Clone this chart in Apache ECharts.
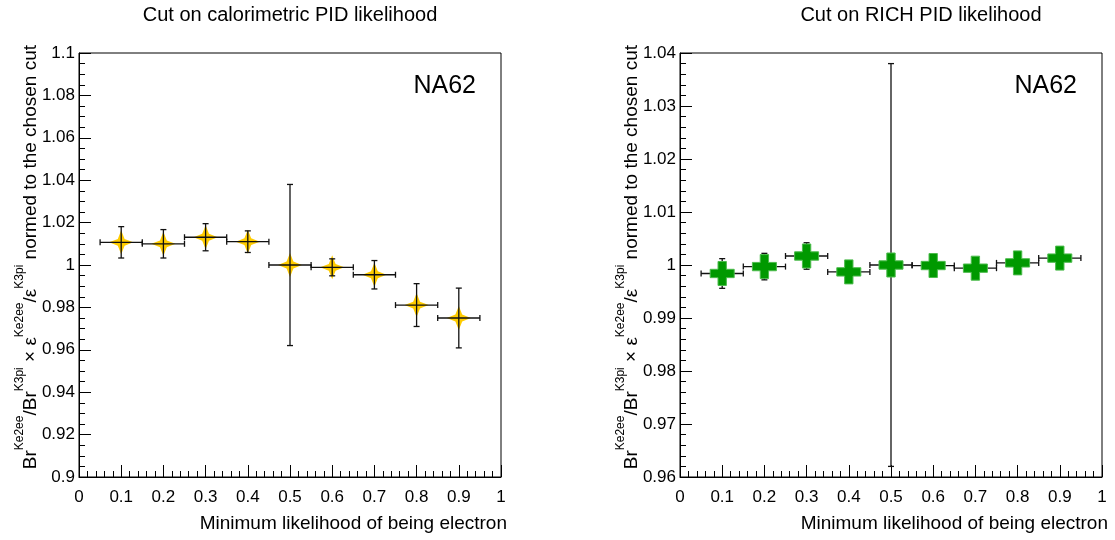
<!DOCTYPE html>
<html lang="en">
<head>
<meta charset="UTF-8">
<title>PID likelihood cuts</title>
<script src="https://cdn.jsdelivr.net/npm/echarts@6/dist/echarts.min.js"></script>
<style>
  html, body { margin: 0; padding: 0; background: #fff; }
  #chart { width: 1115px; height: 540px; }
</style>
</head>
<body>
<div id="chart"></div>
<script>
// cut values (bin centres) and half bin width
const cutValues = [0.1, 0.2, 0.3, 0.4, 0.5, 0.6, 0.7, 0.8, 0.9];
const cutHalfWidth = 0.05;

// calorimetric PID cut
const caloRatio = [1.0107, 1.0100, 1.0131, 1.0110, 1.0000, 0.9989, 0.9954, 0.9811, 0.9750];
const caloError = [0.0074, 0.0067, 0.0064, 0.0051, 0.0380, 0.0040, 0.0067, 0.0101, 0.0141];

// RICH PID cut
const richRatio = [0.9984, 0.9997, 1.0017, 0.9987, 1.0000, 0.9999, 0.9994, 1.0004, 1.0013];
const richError = [0.0028, 0.0025, 0.0025, 0.0010, 0.0380, 0.0012, 0.0012, 0.0012, 0.0012];

const panelTitles = ['Cut on calorimetric PID likelihood', 'Cut on RICH PID likelihood'];
const xTitle = 'Minimum likelihood of being electron';
const expLabel = 'NA62';

const FONT = '"Liberation Sans", Arial, sans-serif';
const chart = echarts.init(document.getElementById('chart'));

function errorBars(ratio, err) {
  return cutValues.map((x, i) => [x, ratio[i], err[i], cutHalfWidth]);
}

function renderErrors(params, api) {
  const x = api.value(0), y = api.value(1), ey = api.value(2), ex = api.value(3);
  const l = api.coord([x - ex, y]);
  const r = api.coord([x + ex, y]);
  const t = api.coord([x, y + ey]);
  const b = api.coord([x, y - ey]);
  const cap = 3;
  const st = { stroke: '#111', lineWidth: 1.3 };
  const seg = (x1, y1, x2, y2) => ({ type: 'line', shape: { x1, y1, x2, y2 }, style: st });
  return {
    type: 'group',
    children: [
      seg(l[0], l[1], r[0], r[1]),
      seg(l[0], l[1] - cap, l[0], l[1] + cap),
      seg(r[0], r[1] - cap, r[0], r[1] + cap),
      seg(t[0], t[1], b[0], b[1]),
      seg(t[0] - cap, t[1], t[0] + cap, t[1]),
      seg(b[0] - cap, b[1], b[0] + cap, b[1])
    ]
  };
}

const gridLefts = [79, 680];
const starPath = 'path://M0,-12 L3.4,-3.4 L12,0 L3.4,3.4 L0,12 L-3.4,3.4 L-12,0 L-3.4,-3.4 Z';
const crossPath = 'path://M-4,-11.5 L4,-11.5 L4,-4 L11.5,-4 L11.5,4 L4,4 L4,11.5 L-4,11.5 L-4,4 L-11.5,4 L-11.5,-4 L-4,-4 Z';

function xAxisFor(i) {
  return {
    type: 'value', gridIndex: i, min: 0, max: 1, interval: 0.1,
    axisLine: { lineStyle: { color: '#000', width: 1 } },
    axisTick: { inside: true, length: 12, lineStyle: { color: '#000' } },
    minorTick: { show: true, splitNumber: 5, length: 6, lineStyle: { color: '#000' } },
    splitLine: { show: false },
    axisLabel: { color: '#000', fontSize: 17, fontFamily: FONT, margin: 12 }
  };
}

function yAxisFor(i, min, max, interval, minorSplit) {
  return {
    type: 'value', gridIndex: i, min, max, interval,
    axisLine: { show: true, lineStyle: { color: '#000', width: 1 } },
    axisTick: { inside: true, length: 12, lineStyle: { color: '#000' } },
    minorTick: { show: true, splitNumber: minorSplit, length: 6, lineStyle: { color: '#000' } },
    splitLine: { show: false },
    axisLabel: { color: '#000', fontSize: 17, fontFamily: FONT, margin: 4 }
  };
}

function yTitle(x) {
  return {
    type: 'text', x: x, y: 45, rotation: Math.PI / 2,
    style: {
      text: '{m|Br}{s|Ke2ee}{m|/Br}{s|K3pi}{m| × ε}{s|Ke2ee}{m|/ε}{s|K3pi}{m| normed to the chosen cut}',
      align: 'right', verticalAlign: 'middle',
      rich: {
        m: { fontSize: 19, fontFamily: FONT, color: '#000', lineHeight: 27, verticalAlign: 'bottom' },
        s: { fontSize: 12, fontFamily: FONT, color: '#000', lineHeight: 13, verticalAlign: 'top' }
      }
    }
  };
}

const graphics = [];
[290, 921].forEach((cx, i) => {
  graphics.push({
    type: 'text', x: cx, y: 15,
    style: { text: panelTitles[i], fontSize: 20, fontFamily: FONT, fill: '#000', align: 'center', verticalAlign: 'middle' }
  });
});
[476, 1077].forEach(x => {
  graphics.push({
    type: 'text', x: x, y: 86,
    style: { text: expLabel, fontSize: 25, fontFamily: FONT, fill: '#000', align: 'right', verticalAlign: 'middle' }
  });
});
[507, 1108].forEach(x => {
  graphics.push({
    type: 'text', x: x, y: 524,
    style: { text: xTitle, fontSize: 19, fontFamily: FONT, fill: '#000', align: 'right', verticalAlign: 'middle' }
  });
});
graphics.push(yTitle(27));
graphics.push(yTitle(628));

const option = {
  backgroundColor: '#fff',
  animation: false,
  grid: gridLefts.map(l => ({
    left: l, top: 53, width: 422, height: 424,
    show: true, borderColor: '#000', borderWidth: 1, backgroundColor: 'transparent'
  })),
  xAxis: [xAxisFor(0), xAxisFor(1)],
  yAxis: [yAxisFor(0, 0.9, 1.1, 0.02, 4), yAxisFor(1, 0.96, 1.04, 0.01, 5)],
  graphic: graphics,
  series: [
    {
      type: 'scatter', xAxisIndex: 0, yAxisIndex: 0, z: 2,
      symbol: starPath, symbolSize: 24,
      itemStyle: { color: '#ffcc00', opacity: 1 },
      data: cutValues.map((x, i) => [x, caloRatio[i]])
    },
    {
      type: 'custom', xAxisIndex: 0, yAxisIndex: 0, z: 3,
      renderItem: renderErrors,
      data: errorBars(caloRatio, caloError)
    },
    {
      type: 'custom', xAxisIndex: 1, yAxisIndex: 1, z: 2,
      renderItem: renderErrors,
      data: errorBars(richRatio, richError)
    },
    {
      type: 'scatter', xAxisIndex: 1, yAxisIndex: 1, z: 3,
      symbol: crossPath, symbolSize: 24,
      itemStyle: { color: '#009900', borderColor: '#4cbb4c', borderWidth: 1, opacity: 1 },
      data: cutValues.map((x, i) => [x, richRatio[i]])
    }
  ]
};

chart.setOption(option);
</script>
</body>
</html>
